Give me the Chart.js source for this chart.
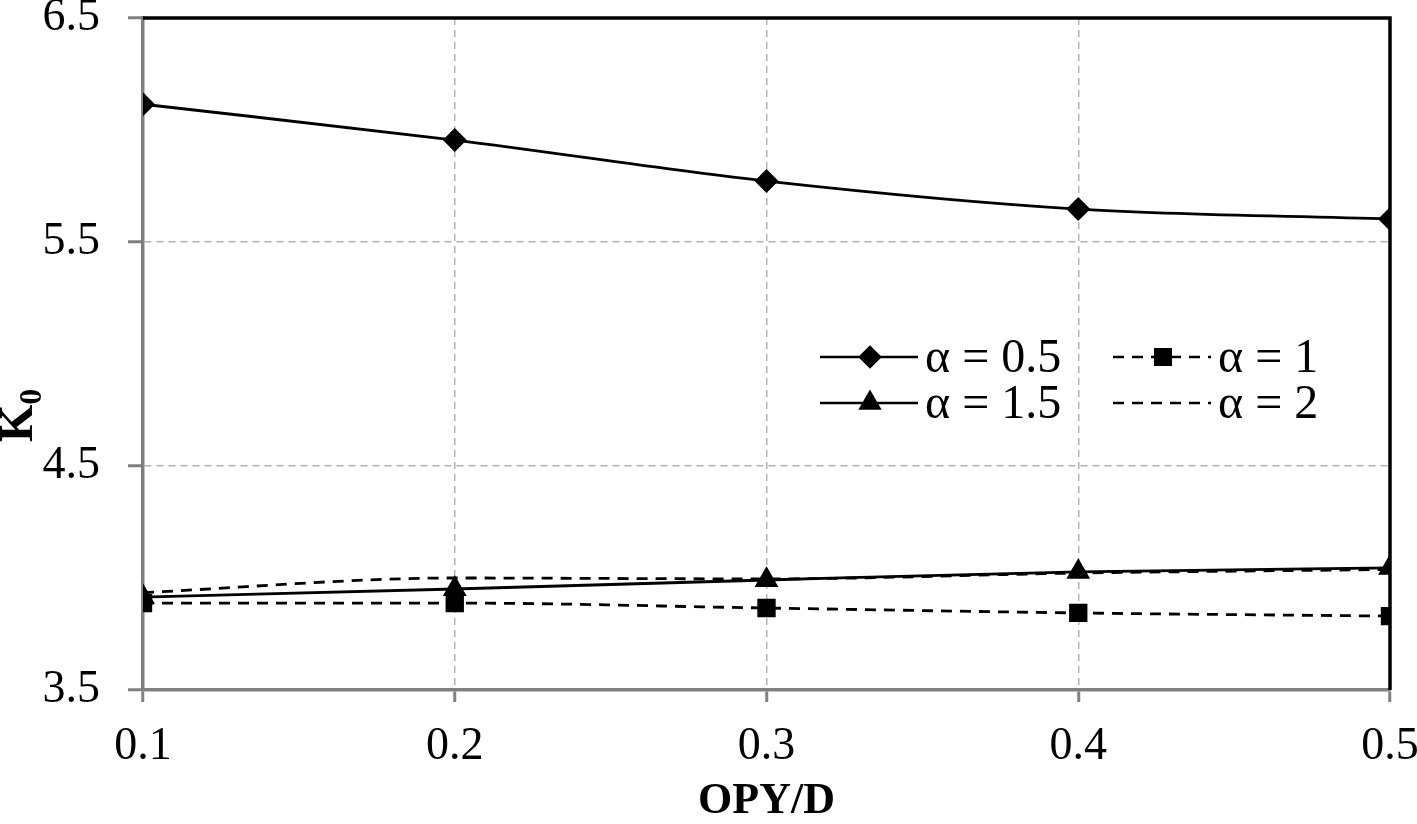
<!DOCTYPE html>
<html>
<head>
<meta charset="utf-8">
<script src="https://cdn.jsdelivr.net/npm/chart.js@4/dist/chart.umd.min.js"></script>
<style>
  html, body { margin: 0; padding: 0; background: #fff; }
  #wrap { width: 1417px; height: 824px; }
</style>
</head>
<body>
<div id="wrap"><canvas id="k0Chart" width="1417" height="824"></canvas></div>
<script>
// Data
const opyD = [0.1, 0.2, 0.3, 0.4, 0.5];
const alpha05 = [6.115, 5.955, 5.772, 5.647, 5.603];
const alpha1 = [3.888, 3.888, 3.866, 3.844, 3.830];
const alpha15 = [3.915, 3.951, 3.991, 4.027, 4.045];
const alpha2 = [3.935, 4.000, 3.996, 4.022, 4.038];
const yTicks = [3.5, 4.5, 5.5, 6.5];
const seriesLabels = ['α = 0.5', 'α = 1', 'α = 1.5', 'α = 2'];

const serif = '"Liberation Serif", "Times New Roman", serif';

function toPoints(vals) {
    return opyD.map((x, i) => ({ x: x, y: vals[i] }));
}

// no auto padding from tick labels, the layout padding decides
function noPad(s) {
    s.paddingTop = 0;
    s.paddingBottom = 0;
    s.paddingLeft = 0;
    s.paddingRight = 0;
}

// Legend + frame + y title
const extras = {
    id: 'extras',
    afterDraw(chart) {
        const ctx = chart.ctx;
        const a = chart.chartArea;
        ctx.save();
        // black top / right frame
        ctx.strokeStyle = '#000';
        ctx.lineWidth = 3.5;
        ctx.beginPath();
        ctx.moveTo(a.left, a.top);
        ctx.lineTo(a.right, a.top);
        ctx.lineTo(a.right, a.bottom);
        ctx.stroke();

        // y title K0
        ctx.fillStyle = '#000';
        ctx.translate(20, 420);
        ctx.rotate(-Math.PI / 2);
        ctx.textAlign = 'left';
        ctx.textBaseline = 'middle';
        ctx.font = 'bold 48px ' + serif;
        ctx.fillText('K', -22, 0);
        const kw = ctx.measureText('K').width;
        ctx.font = 'bold 32px ' + serif;
        ctx.fillText('0', -22 + kw, 13);
        ctx.restore();

        // legend
        const items = [
            { ds: 0, x: 820, y: 357 },
            { ds: 1, x: 1113, y: 357 },
            { ds: 2, x: 820, y: 403 },
            { ds: 3, x: 1113, y: 403 }
        ];
        ctx.save();
        items.forEach(it => {
            const ds = chart.data.datasets[it.ds];
            ctx.strokeStyle = '#000';
            ctx.lineWidth = 2.5;
            ctx.setLineDash(ds.borderDash || []);
            ctx.beginPath();
            ctx.moveTo(it.x, it.y);
            ctx.lineTo(it.x + 98, it.y);
            ctx.stroke();
            ctx.setLineDash([]);
            if (ds.pointRadius > 0) {
                Chart.helpers.drawPoint(ctx, {
                    pointStyle: ds.pointStyle,
                    radius: ds.pointRadius,
                    rotation: 0,
                    borderWidth: 1
                }, it.x + 50, it.y);
                ctx.fillStyle = '#000';
                ctx.fill();
            }
            ctx.fillStyle = '#000';
            ctx.font = '48px ' + serif;
            ctx.textAlign = 'left';
            ctx.textBaseline = 'middle';
            ctx.fillText(ds.label, it.x + 105, it.y + 2);
        });
        ctx.restore();
    }
};

const baseLine = {
    borderColor: '#000',
    backgroundColor: '#000',
    pointBorderColor: '#000',
    pointBackgroundColor: '#000',
    borderWidth: 2.8,
    cubicInterpolationMode: 'monotone',
    fill: false
};

const gridStyle = {
    color: '#b4b4b4',
    lineWidth: 1.5,
    tickColor: '#808080',
    tickWidth: 3,
    tickBorderDash: []
};

const k0Chart = new Chart(document.getElementById('k0Chart'), {
    type: 'line',
    data: {
        datasets: [
            Object.assign({}, baseLine, {
                label: seriesLabels[0], data: toPoints(alpha05),
                pointStyle: 'rectRot', pointRadius: 10
            }),
            Object.assign({}, baseLine, {
                label: seriesLabels[1], data: toPoints(alpha1),
                borderDash: [11, 8], pointStyle: 'rect', pointRadius: 11
            }),
            Object.assign({}, baseLine, {
                label: seriesLabels[2], data: toPoints(alpha15),
                pointStyle: 'triangle', pointRadius: 11
            }),
            Object.assign({}, baseLine, {
                label: seriesLabels[3], data: toPoints(alpha2),
                borderDash: [11, 8], pointRadius: 0
            })
        ]
    },
    options: {
        responsive: false,
        animation: false,
        layout: { padding: { left: 0, right: 27, top: 18, bottom: 0 } },
        plugins: {
            legend: { display: false },
            tooltip: { enabled: false }
        },
        scales: {
            x: {
                type: 'linear',
                min: 0.1,
                max: 0.5,
                afterFit: s => { s.height = 134; noPad(s); },
                afterBuildTicks: s => { s.ticks = opyD.map(v => ({ value: v })); },
                ticks: {
                    color: '#000',
                    font: { family: serif, size: 46 },
                    padding: 17,
                    maxRotation: 0,
                    callback: v => v.toFixed(1)
                },
                grid: Object.assign({}, gridStyle, { tickLength: 12 }),
                border: { color: '#808080', width: 3.5, dash: [7, 5] },
                title: {
                    display: true,
                    text: 'OPY/D',
                    color: '#000',
                    font: { family: serif, size: 44, weight: 'bold' },
                    padding: { top: 0, bottom: -4 }
                }
            },
            y: {
                min: 3.5,
                max: 6.5,
                afterFit: s => { s.width = 143; noPad(s); },
                afterBuildTicks: s => { s.ticks = yTicks.map(v => ({ value: v })); },
                ticks: {
                    color: '#000',
                    font: { family: serif, size: 46 },
                    padding: 28,
                    callback: v => v.toFixed(1)
                },
                grid: Object.assign({}, gridStyle, { tickLength: 15 }),
                border: { color: '#808080', width: 3.5, dash: [7, 5] }
            }
        }
    },
    plugins: [extras]
});
</script>
</body>
</html>
